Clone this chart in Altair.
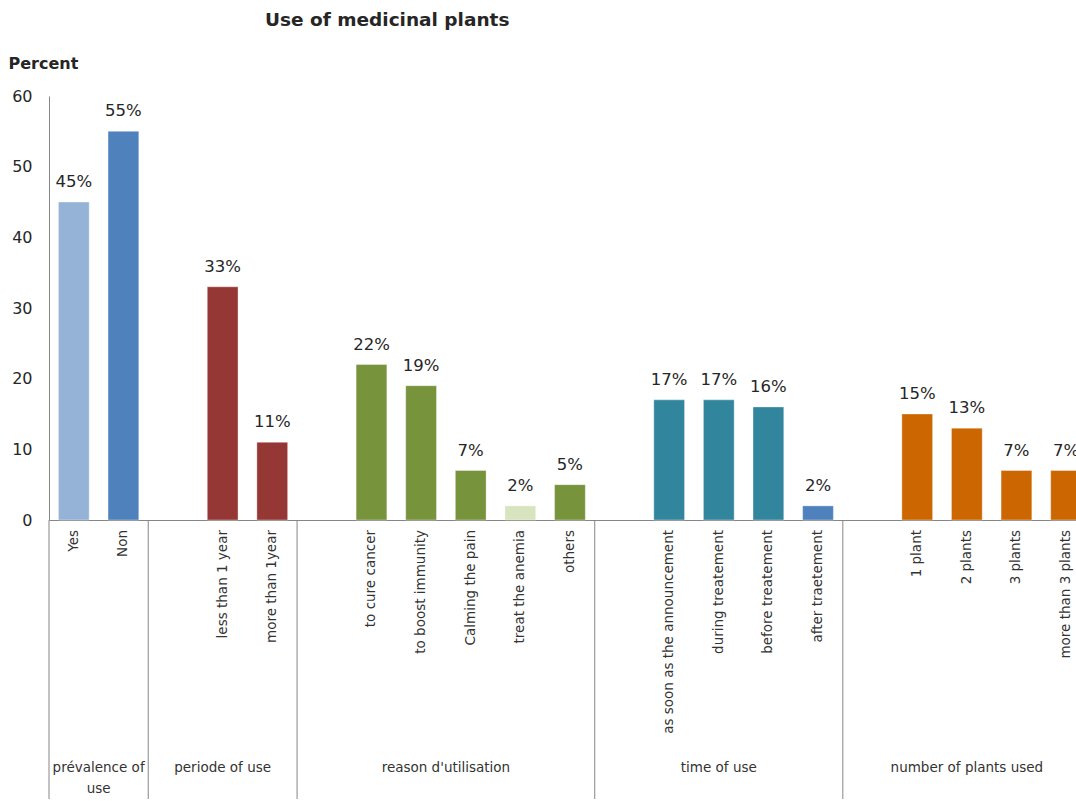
import altair as alt
import pandas as pd

# ---- data ----
group_names = ["prévalence of\nuse", "periode of use", "reason d'utilisation",
               "time of use", "number of plants used"]
group_categories = [
    ["Yes", "Non"],
    ["less than 1 year", "more than 1year"],
    ["to cure cancer", "to boost immunity", "Calming the pain", "treat the anemia", "others"],
    ["as soon as the announcement", "during treatement", "before treatement", "after traetement"],
    ["1 plant", "2 plants", "3 plants", "more than 3 plants"],
]
group_values = [
    [45, 55],
    [33, 11],
    [22, 19, 7, 2, 5],
    [17, 17, 16, 2],
    [15, 13, 7, 7],
]
group_colors = [
    ["#95B3D7", "#4F81BD"],
    ["#953735", "#953735"],
    ["#77933C", "#77933C", "#77933C", "#D7E4BD", "#77933C"],
    ["#31859C", "#31859C", "#31859C", "#4F81BD"],
    ["#CC6600", "#CC6600", "#CC6600", "#CC6600"],
]
y_ticks = [0, 10, 20, 30, 40, 50, 60]

# ---- build tables (slot index = order, one empty slot between groups) ----
rows, groups, dividers = [], [], [-0.5]
slot = 0
left = -0.5
for gi, (gname, cats, vals, cols) in enumerate(zip(group_names, group_categories, group_values, group_colors)):
    if gi > 0:
        slot += 1  # empty slot
    for c, v, col in zip(cats, vals, cols):
        rows.append({"cat": c, "value": v, "label": f"{v}%", "color": col, "idx": slot})
        slot += 1
    right = slot - 0.5
    groups.append({"group": gname, "center": (left + right) / 2})
    if gi < len(group_names) - 1:
        dividers.append(right)
    left = right

bars = pd.DataFrame(rows)
grp = pd.DataFrame(groups)
div = pd.DataFrame({"x": dividers})

W, H = 1027, 424
FONT = "DejaVu Sans"

xscale = alt.Scale(domain=[-0.5, 20.2], nice=False, zero=False)
yscale = alt.Scale(domain=[0, 60], nice=False)

base = alt.Chart(bars).transform_calculate(x0="datum.idx - 0.31", x1="datum.idx + 0.31")

bar_layer = base.mark_bar(stroke="white", strokeWidth=0.6, strokeOpacity=0.6).encode(
    x=alt.X("x0:Q", scale=xscale,
            axis=alt.Axis(labels=False, ticks=False, grid=False, title=None,
                          domainColor="#868686", domainWidth=1)),
    x2="x1:Q",
    y=alt.Y("value:Q", scale=yscale,
            axis=alt.Axis(values=y_ticks, grid=False, ticks=False, domainColor="#868686",
                          labelFont=FONT, labelFontSize=16, labelColor="#262626",
                          labelPadding=17, labelFlush=False, title="Percent", titleAngle=0,
                          titleX=-41, titleY=-33, titleAlign="left", titleBaseline="middle",
                          titleFont=FONT, titleFontSize=16, titleFontWeight="bold",
                          titleColor="#262626")),
    y2=alt.datum(0),
    color=alt.Color("color:N", scale=None),
)

value_labels = alt.Chart(bars).mark_text(
    font=FONT, fontSize=16.5, color="#262626", baseline="alphabetic", dy=-15
).encode(x=alt.X("idx:Q", scale=xscale), y=alt.Y("value:Q", scale=yscale), text="label:N")

cat_labels = alt.Chart(bars).mark_text(
    font=FONT, fontSize=13.5, color="#333333", angle=270, align="right", baseline="middle"
).encode(x=alt.X("idx:Q", scale=xscale), y=alt.value(H + 10), text="cat:N")

group_labels = alt.Chart(grp).mark_text(
    font=FONT, fontSize=13.5, color="#333333", align="center", baseline="middle",
    lineBreak="\n", lineHeight=21
).encode(x=alt.X("center:Q", scale=xscale), y=alt.value(H + 248), text="group:N")

div_rules = alt.Chart(div).mark_rule(color="#868686", strokeWidth=1).encode(
    x=alt.X("x:Q", scale=xscale), y=alt.value(H), y2=alt.value(H + 290)
)

chart = alt.layer(bar_layer, value_labels, cat_labels, group_labels, div_rules).properties(
    width=W, height=H,
    title=alt.TitleParams("Use of medicinal  plants", anchor="start", frame="group",
                          dx=216, offset=26, font=FONT, fontSize=18.5, fontWeight="bold",
                          color="#262626"),
    padding={"left": 49, "top": 96, "right": 0, "bottom": 279},
    autosize=alt.AutoSizeParams(type="none"),
    background="white",
).configure_view(stroke=None)

chart.save("out.html", embed_options={"renderer": "svg", "actions": False})
